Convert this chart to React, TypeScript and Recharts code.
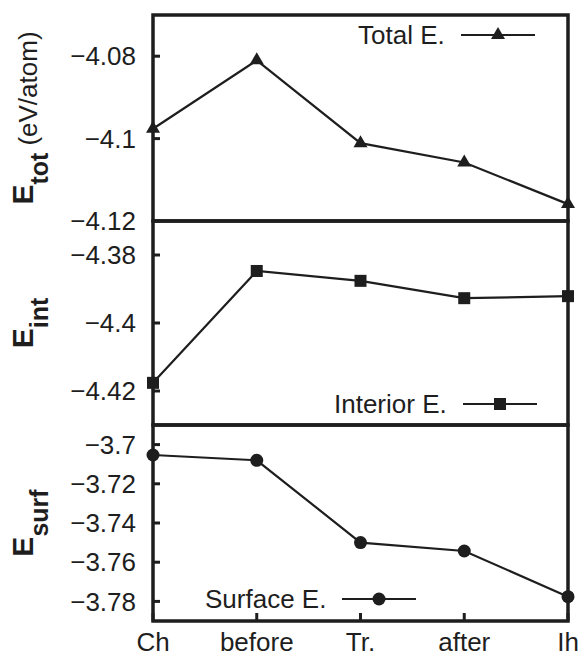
import React from 'react';
import { LineChart, Line, XAxis, YAxis, ReferenceArea, Legend, Label } from 'recharts';

const categories = ['Ch', 'before', 'Tr.', 'after', 'Ih'];
const totalE = [-4.0976, -4.081, -4.1011, -4.1058, -4.1159];
const interiorE = [-4.4176, -4.3847, -4.3876, -4.3927, -4.3921];
const surfaceE = [-3.7053, -3.708, -3.75, -3.7543, -3.7776];

const totTicks = [-4.12, -4.1, -4.08];
const intTicks = [-4.42, -4.4, -4.38];
const surfTicks = [-3.78, -3.76, -3.74, -3.72, -3.7];
const totDomain = [-4.12, -4.07];
const intDomain = [-4.43, -4.37];
const surfDomain = [-3.79, -3.69];

const INK = '#1e1e1e';
const FONT = '"Liberation Sans", Arial, Helvetica, sans-serif';

const data = categories.map((c, i) => ({
  cat: c,
  total: totalE[i],
  interior: interiorE[i],
  surface: surfaceE[i],
}));

const fmt = (v: number) => '\u2212' + String(Math.abs(v));

function marker(type: string, cx: number, cy: number, key?: string) {
  if (type === 'tri') {
    return (
      <polygon key={key} points={`${cx},${cy - 8} ${cx - 7},${cy + 4} ${cx + 7},${cy + 4}`} fill={INK} />
    );
  }
  if (type === 'sq') {
    return <rect key={key} x={cx - 6} y={cy - 6} width={12} height={12} fill={INK} />;
  }
  return <circle key={key} cx={cx} cy={cy} r={6.5} fill={INK} />;
}

type PanelProps = {
  dataKey: string;
  domain: number[];
  ticks: number[];
  showX: boolean;
  sub: string;
  unit?: string;
  legendLabel: string;
  markerType: string;
  top: number;
  mt: number;
  plotH: number;
  legendLeft: number;
  legendTop: number;
};

function Panel(p: PanelProps) {
  const xH = p.showX ? 37 : 20;
  const height = p.mt + p.plotH + xH;
  const titleContent = (props: any) => {
    const vb = props.viewBox || {};
    const cy = (vb.y ?? p.mt) + (vb.height ?? p.plotH) / 2;
    const x = 33;
    return (
      <text
        x={x}
        y={cy}
        transform={`rotate(-90 ${x} ${cy})`}
        textAnchor="middle"
        fill={INK}
        fontFamily={FONT}
      >
        <tspan fontWeight="bold" fontSize={30}>E</tspan>
        <tspan fontWeight="bold" fontSize={25} dy={14.5}>{p.sub}</tspan>
        {p.unit ? (
          <tspan fontSize={26} dy={-11} dx={7}>{p.unit}</tspan>
        ) : null}
      </text>
    );
  };
  const legendContent = () => (
    <div
      style={{
        display: 'flex',
        alignItems: 'center',
        fontFamily: FONT,
        fontSize: 26,
        lineHeight: '30px',
        color: INK,
        whiteSpace: 'nowrap',
      }}
    >
      <span>{p.legendLabel}</span>
      <svg width={74} height={30} style={{ marginLeft: 16, display: 'block', overflow: 'visible' }}>
        <line x1={0} x2={74} y1={15} y2={15} stroke={INK} strokeWidth={2.2} />
        {marker(p.markerType, 37, 15)}
      </svg>
    </div>
  );
  const dot = (props: any) => {
    const { cx, cy, index } = props;
    if (cx == null || cy == null) return <g key={`d-${index}`} />;
    return marker(p.markerType, cx, cy, `d-${index}`);
  };
  return (
    <div style={{ position: 'absolute', left: 0, top: p.top }}>
      <LineChart
        width={581}
        height={height}
        data={data}
        margin={{ top: p.mt, right: 8, bottom: 0, left: 93 }}
      >
        <XAxis
          dataKey="cat"
          interval={0}
          axisLine={false}
          tickLine={{ stroke: INK, strokeWidth: 3 }}
          tickSize={-8}
          tickMargin={20}
          height={xH}
          tick={p.showX ? { fill: INK, fontSize: 26, fontFamily: FONT } : false}
        />
        <YAxis
          yAxisId="l"
          orientation="left"
          type="number"
          domain={p.domain}
          ticks={p.ticks}
          interval={0}
          width={60}
          axisLine={false}
          tickLine={{ stroke: INK, strokeWidth: 3 }}
          tickSize={-7}
          tickMargin={24}
          tickFormatter={fmt}
          tick={{ fill: INK, fontSize: 26, fontFamily: FONT }}
        >
          <Label content={titleContent} />
        </YAxis>
        <YAxis
          yAxisId="r"
          orientation="right"
          type="number"
          domain={p.domain}
          ticks={p.ticks}
          interval={0}
          width={5}
          axisLine={false}
          tickLine={{ stroke: INK, strokeWidth: 3 }}
          tickSize={-7}
          tick={false}
        />
        <ReferenceArea
          yAxisId="l"
          x1="Ch"
          x2="Ih"
          y1={p.domain[0]}
          y2={p.domain[1]}
          fill="none"
          stroke={INK}
          strokeWidth={3.5}
          ifOverflow="visible"
        />
        <Line
          yAxisId="l"
          type="linear"
          dataKey={p.dataKey}
          stroke={INK}
          strokeWidth={2.2}
          dot={dot}
          activeDot={false}
          isAnimationActive={false}
        />
        <Legend
          layout="horizontal"
          verticalAlign="middle"
          align="center"
          content={legendContent}
          wrapperStyle={{ left: p.legendLeft, top: p.legendTop, width: 'auto', height: 'auto' }}
        />
      </LineChart>
    </div>
  );
}

export default function App() {
  return (
    <div style={{ position: 'absolute', left: 0, top: 0, width: 581, height: 658, background: '#fff', overflow: 'hidden' }}>
      <Panel
        dataKey="total"
        domain={totDomain}
        ticks={totTicks}
        showX={false}
        sub="tot"
        unit="(eV/atom)"
        legendLabel="Total E."
        markerType="tri"
        top={0}
        mt={15}
        plotH={206}
        legendLeft={358}
        legendTop={20}
      />
      <Panel
        dataKey="interior"
        domain={intDomain}
        ticks={intTicks}
        showX={false}
        sub="int"
        legendLabel="Interior E."
        markerType="sq"
        top={211}
        mt={10}
        plotH={204}
        legendLeft={334}
        legendTop={178}
      />
      <Panel
        dataKey="surface"
        domain={surfDomain}
        ticks={surfTicks}
        showX={true}
        sub="surf"
        legendLabel="Surface E."
        markerType="dot"
        top={415}
        mt={10}
        plotH={196}
        legendLeft={205}
        legendTop={169}
      />
    </div>
  );
}
